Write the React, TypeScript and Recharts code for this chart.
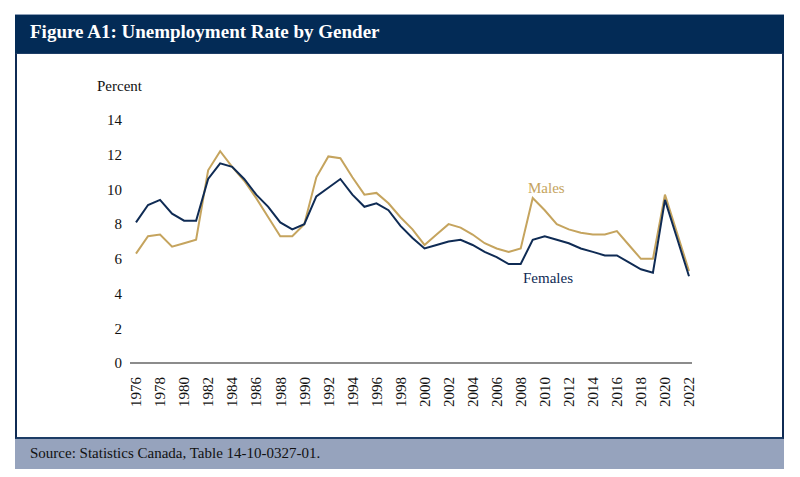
import * as React from 'react';
import { LineChart, Line, XAxis, YAxis } from 'recharts';

const years = [
  1976, 1977, 1978, 1979, 1980, 1981, 1982, 1983, 1984, 1985, 1986, 1987, 1988, 1989, 1990, 1991,
  1992, 1993, 1994, 1995, 1996, 1997, 1998, 1999, 2000, 2001, 2002, 2003, 2004, 2005, 2006, 2007,
  2008, 2009, 2010, 2011, 2012, 2013, 2014, 2015, 2016, 2017, 2018, 2019, 2020, 2021, 2022,
];

const males = [
  6.3, 7.3, 7.4, 6.7, 6.9, 7.1, 11.1, 12.2, 11.3, 10.5, 9.5, 8.4, 7.3, 7.3, 8.0, 10.7,
  11.9, 11.8, 10.7, 9.7, 9.8, 9.2, 8.4, 7.7, 6.8, 7.4, 8.0, 7.8, 7.4, 6.9, 6.6, 6.4,
  6.6, 9.5, 8.8, 8.0, 7.7, 7.5, 7.4, 7.4, 7.6, 6.8, 6.0, 6.0, 9.7, 7.5, 5.3,
];

const females = [
  8.1, 9.1, 9.4, 8.6, 8.2, 8.2, 10.6, 11.5, 11.3, 10.6, 9.7, 9.0, 8.1, 7.7, 8.0, 9.6,
  10.1, 10.6, 9.7, 9.0, 9.2, 8.8, 7.9, 7.2, 6.6, 6.8, 7.0, 7.1, 6.8, 6.4, 6.1, 5.7,
  5.7, 7.1, 7.3, 7.1, 6.9, 6.6, 6.4, 6.2, 6.2, 5.8, 5.4, 5.2, 9.4, 7.2, 5.0,
];

const yTicks = [0, 2, 4, 6, 8, 10, 12, 14];

const NAVY = '#0f2b54';
const GOLD = '#c5a45e';
const FONT = '"Liberation Serif", "Times New Roman", serif';

const data = years.map((year, i) => ({ year, males: males[i], females: females[i] }));

const YearTick = ({ x, y, payload }: any) => (
  <text
    x={x}
    y={y + 6}
    transform={`rotate(-90, ${x}, ${y + 6})`}
    textAnchor="end"
    dy="0.35em"
    fontSize={15}
    fontFamily={FONT}
    fill="#111"
  >
    {payload.value}
  </text>
);

export default function App(): React.JSX.Element {
  return (
    <div style={{ position: 'absolute', left: 0, top: 0, width: 800, height: 477, background: '#fff', fontFamily: FONT }}>
      {/* frame */}
      <div
        style={{
          position: 'absolute', left: 15, top: 14, width: 769, height: 39,
          background: '#032b56', borderTop: '1px solid #8ea0b8', boxSizing: 'border-box',
        }}
      />
      <div
        style={{
          position: 'absolute', left: 15, top: 53, width: 769, height: 386,
          borderLeft: `2px solid ${NAVY}`, borderRight: `2px solid ${NAVY}`, borderBottom: `2px solid #1d3d66`,
          borderTop: '1px solid #1d3d66', boxSizing: 'border-box',
        }}
      />
      <div
        style={{ position: 'absolute', left: 15, top: 439, width: 769, height: 30, background: '#96a3bd' }}
      />
      <div style={{ position: 'absolute', left: 30, top: 21, color: '#fff', fontSize: 19, fontWeight: 'bold', whiteSpace: 'nowrap' }}>
        Figure A1: Unemployment Rate by Gender
      </div>
      <div style={{ position: 'absolute', left: 30, top: 445, color: '#111', fontSize: 15, whiteSpace: 'nowrap' }}>
        Source: Statistics Canada, Table 14-10-0327-01.
      </div>
      <div style={{ position: 'absolute', left: 97, top: 78, color: '#111', fontSize: 15 }}>Percent</div>

      <div style={{ position: 'absolute', left: 0, top: 0 }}>
        <LineChart width={800} height={477} data={data} margin={{ top: 120, right: 108, bottom: 70, left: 90 }}>
          <XAxis
            dataKey="year"
            interval={1}
            tickLine={false}
            axisLine={{ stroke: '#8c8c8c', strokeWidth: 2 }}
            height={44}
            padding={{ left: 6, right: 3 }}
            tick={<YearTick />}
          />
          <YAxis
            domain={[0, 14]}
            ticks={yTicks}
            width={40}
            tickLine={false}
            axisLine={false}
            tickSize={0}
            tickMargin={8}
            tick={{ fontSize: 15, fill: '#111', fontFamily: FONT }}
          />
          <Line dataKey="males" stroke={GOLD} strokeWidth={2} dot={false} isAnimationActive={false} />
          <Line dataKey="females" stroke={NAVY} strokeWidth={2} dot={false} isAnimationActive={false} />
        </LineChart>
      </div>

      <div style={{ position: 'absolute', left: 528, top: 180, color: GOLD, fontSize: 15 }}>Males</div>
      <div style={{ position: 'absolute', left: 523, top: 270, color: NAVY, fontSize: 15 }}>Females</div>
    </div>
  );
}
